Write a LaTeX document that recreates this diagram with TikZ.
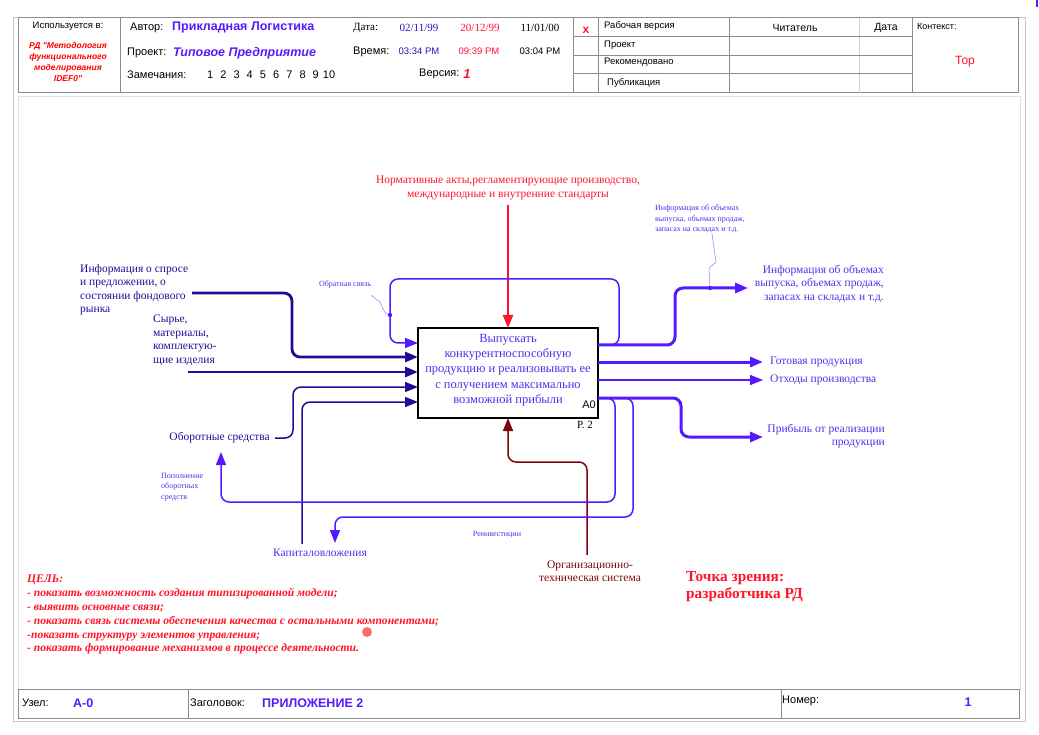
\documentclass[tikz,border=0pt]{standalone}
\usepackage{fontspec}
\setmainfont{Liberation Serif}
\newfontfamily\hdrfont{Liberation Sans}
\usetikzlibrary{arrows.meta}
\definecolor{navyin}{RGB}{35,10,150}
\definecolor{violetout}{RGB}{85,25,255}
\definecolor{violettxt}{RGB}{85,45,235}
\definecolor{redctl}{RGB}{255,20,40}
\definecolor{darkmech}{RGB}{125,5,15}
\definecolor{framegray}{RGB}{140,140,140}
\definecolor{dotred}{RGB}{255,110,110}

\begin{document}
\begin{tikzpicture}[x=1pt, y=-1pt,
	tip/.style={-{Triangle[length=13pt,width=10pt]}},
	thickin/.style={navyin, line width=2.8pt, rounded corners=8},
	thinin/.style={navyin, line width=1.5pt, rounded corners=8},
	thickout/.style={violetout, line width=3pt, rounded corners=8},
	thinout/.style={violetout, line width=1.5pt, rounded corners=8},
	lbl/.style={font=\fontsize{11.5}{13.5}\selectfont, inner sep=0},
	tiny/.style={font=\fontsize{8}{10.5}\selectfont, inner sep=0, violettxt},
	hdr/.style={font=\hdrfont\fontsize{9.5}{11}\selectfont, inner sep=0},
	hdrbig/.style={font=\hdrfont\fontsize{11}{13}\selectfont, inner sep=0}]

	\useasboundingbox (0,0) rectangle (1039,735);

	% frame, header and footer
	\draw [framegray!50, line width=0.8pt] (13,17) rectangle (1025,721);
	\draw [framegray!25, line width=0.8pt] (18,96) rectangle (1020,689);
	\draw [framegray, line width=1pt] (18,18) rectangle (1018,93);
	\foreach \xx in {120,573,598,729,912} \draw [framegray, line width=1pt] (\xx,18) -- (\xx,93);
	\draw [framegray!40, line width=1pt] (859,18) -- (859,93);
	\foreach \yy in {37,56,74} \draw [framegray, line width=1pt] (573,\yy) -- (912,\yy);
	\draw [framegray, line width=1pt] (18,689) rectangle (1019,718);
	\foreach \xx in {188,781} \draw [framegray, line width=1pt] (\xx,689) -- (\xx,718);
	\fill [violetout] (1036,0) rectangle (1038,7);

	\node [hdr] (usedin) at (68,26) {Используется в:};
	\node [hdr, red, align=center, font=\hdrfont\fontsize{8.5}{11}\selectfont\bfseries\itshape] (usedref) at (68,62) {РД "Методология\\функционального\\моделирования\\IDEF0"};
	\node [hdrbig, anchor=west] (author) at (130,28) {Автор:};
	\node [hdr, anchor=west, violetout, font=\hdrfont\fontsize{12.5}{14}\selectfont\bfseries] (authorname) at (172,28) {Прикладная Логистика};
	\node [hdrbig, anchor=west] (project) at (127,53) {Проект:};
	\node [hdr, anchor=west, violetout, font=\hdrfont\fontsize{12.5}{14}\selectfont\bfseries\itshape] (projectname) at (173,53) {Типовое Предприятие};
	\node [hdrbig, anchor=west] (notes) at (127,75) {Замечания:};
	\foreach \n in {1,...,10} \node [hdrbig] (note\n) at (197+13.2*\n,75) {\n};
	\node [lbl, anchor=west, font=\fontsize{11}{13}\selectfont] (date) at (353,28) {Дата:};
	\node [lbl, navyin!70!violetout, font=\fontsize{11}{13}\selectfont] (date1) at (419,28) {02/11/99};
	\node [lbl, redctl, font=\fontsize{11}{13}\selectfont] (date2) at (480,28) {20/12/99};
	\node [lbl, font=\fontsize{11}{13}\selectfont] (date3) at (540,28) {11/01/00};
	\node [hdrbig, anchor=west] (time) at (353,52) {Время:};
	\node [hdr, navyin!70!violetout] (time1) at (419,51) {03:34 PM};
	\node [hdr, redctl] (time2) at (479,51) {09:39 PM};
	\node [hdr] (time3) at (540,51) {03:04 PM};
	\node [hdrbig, anchor=west] (version) at (419,74) {Версия:};
	\node [hdr, redctl, font=\hdrfont\fontsize{13}{15}\selectfont\bfseries\itshape] (versionno) at (467,74) {1};
	\node [hdr, redctl, font=\hdrfont\fontsize{12}{14}\selectfont\bfseries] (mark) at (586,30) {x};
	\node [hdr, anchor=west] (working) at (604,26) {Рабочая версия};
	\node [hdr, anchor=west] (draft) at (604,45) {Проект};
	\node [hdr, anchor=west] (recommended) at (604,62) {Рекомендовано};
	\node [hdr, anchor=west] (publication) at (607,83) {Публикация};
	\node [hdr, font=\hdrfont\fontsize{10.5}{12}\selectfont] (reader) at (795,28) {Читатель};
	\node [hdr, font=\hdrfont\fontsize{10.5}{12}\selectfont] (readerdate) at (886,28) {Дата};
	\node [hdr, anchor=west, font=\hdrfont\fontsize{9}{11}\selectfont] (context) at (917,26) {Контекст:};
	\node [hdr, redctl, font=\hdrfont\fontsize{12}{14}\selectfont] (top) at (965,62) {Тор};

	\node [hdrbig, anchor=west] (nodelbl) at (22,703) {Узел:};
	\node [hdr, anchor=west, violetout, font=\hdrfont\fontsize{12.5}{14}\selectfont\bfseries] (nodeno) at (73,703) {A-0};
	\node [hdrbig, anchor=west] (titlelbl) at (190,703) {Заголовок:};
	\node [hdr, anchor=west, violetout, font=\hdrfont\fontsize{12.5}{14}\selectfont\bfseries] (title) at (262,703) {ПРИЛОЖЕНИЕ 2};
	\node [hdrbig, anchor=west] (numberlbl) at (782,701) {Номер:};
	\node [hdr, violetout, font=\hdrfont\fontsize{12.5}{14}\selectfont\bfseries] (number) at (968,702) {1};

	% function box
	\node [draw, line width=1.2pt, minimum width=180, minimum height=90, inner sep=0] (A0) at (508,373) {};
	\node [lbl, violettxt, align=center, font=\fontsize{12.5}{15.3}\selectfont] (A0text) at (508,370) {Выпускать\\конкурентноспособную\\продукцию и реализовывать ее\\с получением максимально\\возможной прибыли};
	\node [hdr, font=\hdrfont\fontsize{11}{13}\selectfont] (A0no) at (589,405) {A0};
	\node [lbl, font=\fontsize{11}{13}\selectfont] (page) at (585,425) {P. 2};

	% ends of the arrows
	\coordinate (I0) at (418,343);
	\coordinate (I1) at (418,357);
	\coordinate (I2) at (418,372);
	\coordinate (I3) at (418,387);
	\coordinate (I4) at (418,402);
	\coordinate (O1) at (598,345);
	\coordinate (O2) at (598,362);
	\coordinate (O3) at (598,380);
	\coordinate (O4) at (598,398);
	\coordinate (C1) at (508,328);
	\coordinate (M1) at (508,418);

	% labels
	\node [lbl, redctl, align=center] (norms) at (508,188) {Нормативные акты,регламентирующие производство,\\международные и внутренние стандарты};
	\node [lbl, navyin, align=left, anchor=north west] (market) at (80,264) {Информация о спросе\\и предложении, о\\состоянии фондового\\рынка};
	\node [lbl, navyin, align=left, anchor=north west] (material) at (153,315) {Сырье,\\материалы,\\комплектую-\\щие изделия};
	\node [lbl, navyin, anchor=east] (working) at (270,438) {Оборотные средства};
	\node [lbl, violettxt] (invest) at (320,553) {Капиталовложения};
	\node [lbl, darkmech, align=center] (orgsys) at (590,571) {Организационно-\\техническая система};
	\node [lbl, violettxt, align=right, anchor=north east] (salesinfo) at (884,265) {Информация об объемах\\выпуска, объемах продаж,\\запасах на складах и т.д.};
	\node [lbl, violettxt, anchor=west] (goods) at (770,362) {Готовая продукция};
	\node [lbl, violettxt, anchor=west] (waste) at (770,380) {Отходы производства};
	\node [lbl, violettxt, align=right, anchor=north east] (profit) at (885,424) {Прибыль от реализации\\продукции};
	\node [tiny] (feedback) at (345,284) {Обратная связь};
	\node [tiny, align=left, anchor=north west] (refill) at (161,473) {Пополнение\\оборотных\\средств};
	\node [tiny] (reinvest) at (497,535) {Реинвестиции};
	\node [tiny, align=left, anchor=north west] (salesnote) at (655,205) {Информация об объемах\\выпуска, объемах продаж,\\запасах на складах и т.д.};

	\coordinate (marketend) at (192,293);
	\coordinate (materialend) at (188,372);
	\coordinate (workingend) at (275,438);
	\coordinate (investend) at (302,544);
	\coordinate (orgend) at (587,555);
	\coordinate (normsend) at (508,205);
	\coordinate (salesend) at (748,288);
	\coordinate (goodsend) at (763,362);
	\coordinate (wasteend) at (763,380);
	\coordinate (profitend) at (763,437);
	\coordinate (refillend) at (221,452);
	\coordinate (reinvestend) at (335,543);

	% control and mechanism
	\draw [redctl, line width=2.2pt, tip] (normsend) -- (C1);
	\draw [darkmech, line width=1.5pt, rounded corners=8, tip] (orgend) |- (508,462) -- (M1);

	% inputs
	\draw [thickin, tip] (marketend) -| (292,357) -- (I1);
	\draw [thickin, tip] (materialend) -- (I2);
	\draw [thinin, tip] (workingend) -| (293,387) -- (I3);
	\draw [thinin, tip] (investend) |- (I4);

	% outputs
	\draw [thinout, tip] (O1) -| (619,279) -| (390,343) -- (I0);
	\draw [thickout, tip] (O1) -| (675,288) -- (salesend);
	\draw [thickout, tip] (O2) -- (goodsend);
	\draw [thinout, tip] (O3) -- (wasteend);
	\draw [thickout, tip] (O4) -| (681,437) -- (profitend);
	\draw [thinout, tip] (O4) -| (615,502) -| (refillend);
	\draw [thinout, tip] (O4) -| (633,517) -| (reinvestend);

	% squiggles to the small labels
	\draw [violetout!60, line width=0.5pt] (390,315) .. controls (380,313) and (384,302) .. (377,300) -- (371,295);
	\draw [violetout!60, line width=0.5pt] (710,288) -- (709,268) -- (716,262) -- (714,248) -- (712,234);
	\foreach \point in {(390,315),(710,288)} \fill [violetout] \point circle (2.2pt);

	% goals and viewpoint
	\node [lbl, redctl, align=left, anchor=north west, font=\fontsize{11.6}{13.8}\selectfont\bfseries\itshape] (goals) at (27,575) {ЦЕЛЬ:\\- показать возможность создания типизированной модели;\\- выявить основные связи;\\- показать связь системы обеспечения качества с остальными компонентами;\\-показать структуру элементов управления;\\- показать формирование механизмов в процессе деятельности.};
	\node [lbl, redctl, align=left, anchor=north west, font=\fontsize{15.3}{17}\selectfont\bfseries] (viewpoint) at (686,571) {Точка зрения:\\разработчика РД};
	\fill [dotred] (367,632) circle (5pt);

\end{tikzpicture}
\end{document}
